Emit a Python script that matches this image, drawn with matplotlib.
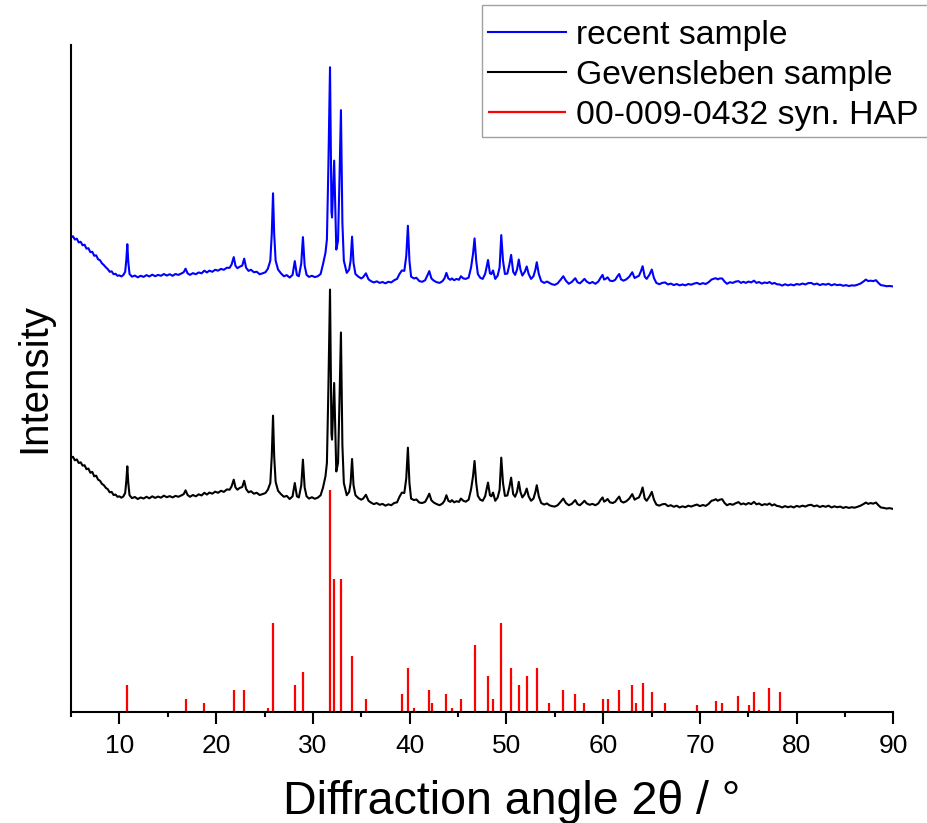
import matplotlib
matplotlib.use("Agg")
import matplotlib.pyplot as plt
from matplotlib.patches import Rectangle
import numpy as np

plt.rcParams["font.family"] = ["Liberation Sans", "DejaVu Sans"]

# recent sample: (2theta, intensity) in plot units, stacked above the old sample
recent_pattern = [
    (5.0, 213.4), (5.2, 214.0), (5.4, 212.5), (5.6, 212.9), (5.8, 211.2), (6.0, 211.5),
    (6.2, 209.9), (6.4, 210.2), (6.6, 208.4), (6.8, 208.6), (7.0, 206.8), (7.2, 207.0),
    (7.4, 205.2), (7.6, 205.4), (7.8, 203.6), (8.0, 203.2), (8.2, 201.8), (8.4, 201.0),
    (8.6, 200.0), (8.8, 199.2), (9.0, 198.0), (9.2, 198.2), (9.4, 196.9), (9.6, 197.1),
    (9.8, 196.2), (10.0, 196.4), (10.2, 195.9), (10.4, 196.5), (10.6, 198.0), (10.72, 203.5),
    (10.82, 210.4), (10.92, 202.5), (11.05, 197.0), (11.3, 195.8), (11.6, 196.3), (11.9, 195.5),
    (12.2, 196.2), (12.5, 195.7), (12.8, 196.5), (13.1, 195.9), (13.4, 196.7), (13.7, 196.0),
    (14.0, 196.6), (14.3, 196.2), (14.6, 197.0), (14.9, 196.3), (15.2, 196.9), (15.5, 196.2),
    (15.8, 197.0), (16.1, 196.6), (16.4, 197.2), (16.65, 197.8), (16.84, 199.4), (17.05, 197.3),
    (17.3, 196.6), (17.6, 197.4), (17.9, 196.9), (18.2, 197.7), (18.5, 197.3), (18.78, 198.5),
    (19.05, 197.7), (19.3, 198.5), (19.6, 198.0), (19.9, 198.9), (20.2, 198.5), (20.5, 199.3),
    (20.8, 198.9), (21.1, 199.8), (21.4, 199.8), (21.6, 201.3), (21.82, 204.6), (22.0, 200.7),
    (22.2, 199.6), (22.45, 200.3), (22.7, 200.8), (22.9, 203.9), (23.1, 199.8), (23.35, 198.4),
    (23.6, 198.9), (23.9, 197.8), (24.2, 198.0), (24.5, 196.9), (24.8, 197.3), (25.1, 197.8),
    (25.35, 199.4), (25.6, 203.0), (25.75, 215.0), (25.88, 233.3), (26.0, 215.0), (26.15, 203.0),
    (26.4, 199.0), (26.7, 197.3), (27.0, 196.0), (27.3, 196.5), (27.6, 195.4), (27.9, 196.6),
    (28.13, 202.8), (28.35, 196.5), (28.55, 196.0), (28.8, 201.8), (28.97, 213.6), (29.15, 200.8),
    (29.35, 196.6), (29.6, 195.7), (29.9, 196.2), (30.2, 195.6), (30.5, 196.0), (30.8, 197.0),
    (31.05, 201.5), (31.3, 206.5), (31.45, 212.5), (31.6, 245.0), (31.77, 290.0), (31.92, 225.0),
    (31.98, 222.4), (32.2, 248.0), (32.42, 208.0), (32.6, 212.0), (32.75, 240.0), (32.9, 270.7),
    (33.05, 220.0), (33.2, 203.0), (33.5, 197.5), (33.75, 199.0), (33.9, 203.0), (34.05, 213.8),
    (34.2, 202.0), (34.4, 197.0), (34.7, 195.8), (35.0, 195.0), (35.2, 195.6), (35.48, 197.3),
    (35.75, 194.6), (36.0, 193.8), (36.3, 193.2), (36.6, 193.7), (36.9, 193.0), (37.2, 193.4),
    (37.5, 192.8), (37.8, 193.5), (38.1, 193.2), (38.4, 194.2), (38.7, 194.8), (38.95, 197.0),
    (39.2, 198.6), (39.45, 198.4), (39.65, 205.0), (39.82, 218.7), (39.98, 203.0), (40.15, 195.8),
    (40.45, 195.0), (40.7, 195.3), (41.0, 193.8), (41.3, 193.5), (41.6, 194.2), (41.85, 196.5),
    (42.03, 198.3), (42.25, 195.0), (42.5, 194.0), (42.8, 193.3), (43.1, 193.0), (43.4, 193.8),
    (43.6, 195.0), (43.8, 197.5), (44.0, 195.0), (44.2, 194.4), (44.37, 195.0), (44.6, 194.2),
    (44.85, 194.8), (45.1, 194.4), (45.3, 196.0), (45.55, 195.0), (45.8, 194.8), (46.1, 195.4),
    (46.35, 200.0), (46.55, 206.0), (46.71, 213.0), (46.88, 203.0), (47.05, 197.0), (47.3, 195.3),
    (47.55, 194.8), (47.8, 197.0), (47.95, 200.0), (48.1, 203.3), (48.3, 197.3), (48.45, 197.0),
    (48.62, 198.6), (48.85, 194.8), (49.1, 196.3), (49.3, 200.0), (49.47, 214.5), (49.65, 203.0),
    (49.85, 197.0), (50.1, 197.2), (50.3, 201.0), (50.49, 205.6), (50.7, 198.0), (50.9, 196.6),
    (51.1, 199.0), (51.28, 203.5), (51.45, 199.0), (51.65, 196.3), (51.9, 198.0), (52.1, 200.4),
    (52.3, 197.0), (52.55, 194.8), (52.8, 196.0), (53.0, 199.0), (53.14, 202.3), (53.35, 197.0),
    (53.6, 193.8), (53.9, 193.0), (54.2, 193.6), (54.44, 193.0), (54.7, 192.4), (55.0, 192.1),
    (55.3, 192.8), (55.6, 194.4), (55.88, 196.0), (56.15, 194.0), (56.45, 192.6), (56.75, 193.4),
    (56.95, 194.3), (57.12, 195.1), (57.35, 193.3), (57.6, 192.8), (57.85, 193.8), (58.07, 194.8),
    (58.3, 193.6), (58.6, 192.8), (58.9, 193.4), (59.2, 192.6), (59.5, 193.6), (59.75, 195.4),
    (59.94, 196.6), (60.1, 194.5), (60.25, 194.8), (60.46, 195.5), (60.7, 194.0), (61.0, 193.8),
    (61.25, 194.4), (61.45, 195.8), (61.66, 197.0), (61.85, 194.6), (62.1, 194.0), (62.4, 194.6),
    (62.7, 195.8), (63.01, 197.8), (63.25, 195.2), (63.44, 195.6), (63.7, 196.2), (63.9, 198.2),
    (64.08, 200.5), (64.3, 195.8), (64.5, 194.8), (64.8, 196.8), (65.03, 199.0), (65.25, 195.2),
    (65.5, 193.0), (65.8, 192.4), (66.1, 193.0), (66.4, 193.2), (66.7, 192.3), (67.0, 192.7),
    (67.3, 192.0), (67.6, 192.5), (67.9, 191.9), (68.2, 192.3), (68.5, 191.9), (68.8, 192.5),
    (69.1, 192.2), (69.4, 192.7), (69.7, 193.0), (70.0, 192.4), (70.3, 192.9), (70.6, 192.5),
    (70.9, 193.3), (71.2, 194.5), (71.45, 194.9), (71.65, 195.1), (71.85, 194.6), (72.05, 195.0),
    (72.3, 195.0), (72.55, 193.6), (72.8, 192.6), (73.1, 193.3), (73.4, 193.0), (73.7, 193.6),
    (73.99, 193.8), (74.25, 193.0), (74.5, 193.5), (74.75, 193.0), (75.03, 193.6), (75.3, 193.2),
    (75.59, 194.0), (75.85, 193.0), (76.11, 193.4), (76.4, 192.7), (76.7, 193.2), (76.95, 192.9),
    (77.19, 193.4), (77.45, 192.6), (77.7, 193.0), (77.95, 192.4), (78.23, 192.3), (78.5, 191.8),
    (78.8, 192.4), (79.1, 191.9), (79.4, 192.3), (79.7, 191.9), (80.0, 192.5), (80.3, 192.2),
    (80.6, 192.7), (80.9, 192.3), (81.2, 192.9), (81.5, 193.0), (81.8, 192.3), (82.1, 192.7),
    (82.4, 192.0), (82.7, 192.5), (83.0, 192.2), (83.3, 192.6), (83.6, 191.9), (83.9, 192.4),
    (84.2, 192.0), (84.5, 192.2), (84.8, 191.7), (85.1, 192.0), (85.4, 191.6), (85.7, 191.9),
    (86.0, 191.8), (86.3, 192.2), (86.6, 192.7), (86.9, 193.6), (87.15, 194.5), (87.4, 193.8),
    (87.65, 194.0), (87.9, 193.8), (88.2, 194.2), (88.45, 193.0), (88.7, 192.0), (89.0, 191.8),
    (89.3, 191.5), (89.6, 191.6), (90.0, 191.4),
]

# Gevensleben sample: (2theta, intensity)
gevensleben_pattern = [
    (5.0, 114.3), (5.2, 114.8), (5.4, 113.2), (5.6, 113.6), (5.8, 112.0), (6.0, 112.3),
    (6.2, 110.8), (6.4, 111.0), (6.6, 109.2), (6.8, 109.5), (7.0, 107.6), (7.2, 108.0),
    (7.4, 106.0), (7.6, 106.3), (7.8, 104.5), (8.0, 104.0), (8.2, 102.6), (8.4, 102.0),
    (8.6, 100.8), (8.8, 100.2), (9.0, 98.8), (9.2, 99.0), (9.4, 97.6), (9.6, 97.8),
    (9.8, 96.8), (10.0, 97.0), (10.2, 96.4), (10.4, 96.9), (10.6, 98.5), (10.72, 104.0),
    (10.82, 110.5), (10.92, 103.0), (11.05, 97.5), (11.3, 96.2), (11.6, 96.7), (11.9, 95.8),
    (12.2, 96.5), (12.5, 96.0), (12.8, 96.8), (13.1, 96.1), (13.4, 97.0), (13.7, 96.3),
    (14.0, 96.9), (14.3, 96.4), (14.6, 97.3), (14.9, 96.6), (15.2, 97.1), (15.5, 96.5),
    (15.8, 97.2), (16.1, 96.8), (16.4, 97.4), (16.65, 98.0), (16.84, 99.7), (17.05, 97.6),
    (17.3, 96.8), (17.6, 97.6), (17.9, 97.0), (18.2, 97.9), (18.5, 97.4), (18.78, 98.6),
    (19.05, 97.8), (19.3, 98.7), (19.6, 98.2), (19.9, 99.1), (20.2, 98.6), (20.5, 99.5),
    (20.8, 99.0), (21.1, 100.1), (21.4, 100.0), (21.6, 101.5), (21.82, 104.5), (22.0, 101.0),
    (22.2, 100.0), (22.45, 100.8), (22.7, 101.2), (22.9, 104.0), (23.1, 100.3), (23.35, 98.8),
    (23.6, 99.3), (23.9, 98.2), (24.2, 98.6), (24.5, 97.6), (24.8, 98.0), (25.1, 98.5),
    (25.35, 100.0), (25.6, 103.0), (25.75, 115.0), (25.88, 133.3), (26.0, 115.0), (26.15, 103.5),
    (26.4, 99.5), (26.7, 98.0), (27.0, 96.8), (27.3, 97.2), (27.6, 95.8), (27.9, 97.0),
    (28.13, 103.0), (28.35, 97.0), (28.55, 96.5), (28.8, 102.0), (28.97, 113.5), (29.15, 101.0),
    (29.35, 97.0), (29.6, 96.0), (29.9, 96.6), (30.2, 95.9), (30.5, 96.4), (30.8, 97.5),
    (31.05, 101.0), (31.3, 106.0), (31.45, 112.0), (31.6, 145.0), (31.77, 190.0), (31.92, 125.0),
    (31.98, 122.5), (32.2, 148.0), (32.42, 108.2), (32.6, 112.0), (32.75, 140.0), (32.9, 170.7),
    (33.05, 120.0), (33.2, 103.0), (33.5, 97.5), (33.75, 99.0), (33.9, 103.0), (34.05, 113.8),
    (34.2, 102.0), (34.4, 97.5), (34.7, 96.2), (35.0, 95.5), (35.2, 96.0), (35.48, 97.7),
    (35.75, 95.0), (36.0, 94.2), (36.3, 93.5), (36.6, 94.0), (36.9, 93.2), (37.2, 93.6),
    (37.5, 92.8), (37.8, 93.4), (38.1, 93.0), (38.4, 94.0), (38.7, 94.3), (38.95, 96.8),
    (39.2, 98.7), (39.45, 98.5), (39.65, 105.0), (39.82, 118.9), (39.98, 103.0), (40.15, 96.0),
    (40.45, 95.3), (40.7, 95.6), (41.0, 94.2), (41.3, 94.0), (41.6, 94.5), (41.85, 96.5),
    (42.03, 98.2), (42.25, 95.2), (42.5, 94.2), (42.8, 93.5), (43.1, 93.0), (43.4, 93.8),
    (43.6, 95.0), (43.8, 97.5), (44.0, 95.0), (44.2, 94.5), (44.37, 95.3), (44.6, 94.3),
    (44.85, 94.8), (45.1, 94.5), (45.3, 96.0), (45.55, 95.0), (45.8, 94.6), (46.1, 95.5),
    (46.35, 100.2), (46.55, 106.0), (46.71, 112.9), (46.88, 103.0), (47.05, 97.2), (47.3, 95.5),
    (47.55, 95.0), (47.8, 97.0), (47.95, 100.0), (48.1, 103.2), (48.3, 97.5), (48.45, 97.0),
    (48.62, 98.7), (48.85, 95.0), (49.1, 96.5), (49.3, 100.0), (49.47, 114.4), (49.65, 103.0),
    (49.85, 97.2), (50.1, 97.4), (50.3, 101.0), (50.49, 105.4), (50.7, 98.0), (50.9, 96.8),
    (51.1, 99.0), (51.28, 103.5), (51.45, 99.0), (51.65, 96.5), (51.9, 98.0), (52.1, 100.5),
    (52.3, 97.0), (52.55, 95.0), (52.8, 96.0), (53.0, 99.0), (53.14, 102.0), (53.35, 97.0),
    (53.6, 94.0), (53.9, 93.3), (54.2, 93.8), (54.44, 93.0), (54.7, 92.6), (55.0, 92.4),
    (55.3, 93.0), (55.6, 94.5), (55.88, 96.0), (56.15, 94.0), (56.45, 93.0), (56.75, 93.6),
    (56.95, 94.5), (57.12, 95.3), (57.35, 93.5), (57.6, 93.0), (57.85, 94.0), (58.07, 95.0),
    (58.3, 93.8), (58.6, 93.2), (58.9, 93.6), (59.2, 93.0), (59.5, 93.8), (59.75, 95.5),
    (59.94, 96.5), (60.1, 94.6), (60.25, 95.0), (60.46, 95.8), (60.7, 94.3), (61.0, 94.0),
    (61.25, 94.6), (61.45, 95.8), (61.66, 96.9), (61.85, 94.8), (62.1, 94.2), (62.4, 94.8),
    (62.7, 96.0), (63.01, 98.0), (63.25, 95.5), (63.44, 96.0), (63.7, 96.5), (63.9, 98.5),
    (64.08, 101.0), (64.3, 96.0), (64.5, 95.0), (64.8, 97.0), (65.03, 99.0), (65.25, 95.5),
    (65.5, 93.3), (65.8, 92.8), (66.1, 93.4), (66.4, 93.6), (66.7, 92.6), (67.0, 93.0),
    (67.3, 92.3), (67.6, 92.8), (67.9, 92.0), (68.2, 92.5), (68.5, 92.1), (68.8, 92.8),
    (69.1, 92.4), (69.4, 92.9), (69.7, 93.3), (70.0, 92.6), (70.3, 93.1), (70.6, 92.7),
    (70.9, 93.6), (71.2, 95.0), (71.45, 95.3), (71.65, 95.7), (71.85, 95.0), (72.05, 95.5),
    (72.3, 95.7), (72.55, 94.0), (72.8, 93.0), (73.1, 93.6), (73.4, 93.2), (73.7, 93.9),
    (73.99, 94.4), (74.25, 93.4), (74.5, 93.8), (74.75, 93.3), (75.03, 94.0), (75.3, 93.5),
    (75.59, 94.5), (75.85, 93.4), (76.11, 93.8), (76.4, 93.0), (76.7, 93.5), (76.95, 93.2),
    (77.19, 93.8), (77.45, 92.9), (77.7, 93.4), (77.95, 92.7), (78.23, 92.5), (78.5, 92.0),
    (78.8, 92.6), (79.1, 92.1), (79.4, 92.5), (79.7, 92.0), (80.0, 92.7), (80.3, 92.3),
    (80.6, 92.8), (80.9, 92.4), (81.2, 93.0), (81.5, 93.2), (81.8, 92.5), (82.1, 92.9),
    (82.4, 92.2), (82.7, 92.7), (83.0, 92.3), (83.3, 92.8), (83.6, 92.0), (83.9, 92.5),
    (84.2, 92.1), (84.5, 92.4), (84.8, 91.8), (85.1, 92.2), (85.4, 91.8), (85.7, 92.1),
    (86.0, 91.9), (86.3, 92.3), (86.6, 92.8), (86.9, 93.5), (87.15, 94.2), (87.4, 93.6),
    (87.65, 94.0), (87.9, 93.7), (88.2, 94.2), (88.45, 93.0), (88.7, 92.0), (89.0, 91.8),
    (89.3, 91.5), (89.6, 91.7), (90.0, 91.3),
]

# PDF 00-009-0432 hydroxyapatite reference lines (relative intensity, %)
hap_2theta = [
    10.82, 16.84, 18.78, 21.82, 22.90, 25.35, 25.88, 28.13, 28.97, 31.77, 32.20, 32.90,
    34.05, 35.48, 39.20, 39.82, 40.45, 42.03, 42.32, 43.80, 44.37, 45.30, 46.71, 48.10,
    48.62, 49.47, 50.49, 51.28, 52.10, 53.14, 54.44, 55.88, 57.12, 58.07, 59.94, 60.46,
    61.66, 63.01, 63.44, 64.08, 65.03, 66.40, 69.70, 71.65, 72.30, 73.99, 75.03, 75.59,
    76.11, 77.19, 78.23,
]
hap_intensity = [
    12, 6, 4, 10, 10, 2, 40, 12, 18, 100, 60, 60,
    25, 6, 8, 20, 2, 10, 4, 8, 2, 6, 30, 16,
    6, 40, 20, 12, 16, 20, 4, 10, 8, 4, 6, 6,
    10, 12, 4, 13, 9, 4, 3, 5, 4, 7, 3, 9,
    1, 11, 9,
]

recent_x, recent_y = zip(*recent_pattern)
gev_x, gev_y = zip(*gevensleben_pattern)

W, H = 928, 823
fig = plt.figure(figsize=(W / 100, H / 100), dpi=100)
ax = fig.add_axes([71 / W, 111 / H, 822.4 / W, 667 / H])

ax.plot(recent_x, recent_y, color="#0000ff", lw=1.5, label="recent sample")
ax.plot(gev_x, gev_y, color="black", lw=1.5, label="Gevensleben sample")
ax.vlines(hap_2theta, 0, hap_intensity, color="#ff0000", lw=1.6,
          label="00-009-0432 syn. HAP")

ax.set_xlim(5, 90)
ax.set_ylim(0, 300)
ax.set_xticks(np.arange(10, 91, 10))
ax.set_xticks(np.arange(5, 91, 10), minor=True)
ax.set_yticks([])
ax.tick_params(axis="x", which="major", length=8.5, width=1.5, pad=7, labelsize=19)
ax.tick_params(axis="x", which="minor", length=3.6, width=1.5)

ax.spines["top"].set_visible(False)
ax.spines["right"].set_visible(False)
ax.spines["left"].set_linewidth(1.5)
ax.spines["bottom"].set_linewidth(1.5)

ax.set_xlabel("Diffraction angle 2θ / °", fontsize=33.5)
ax.xaxis.set_label_coords((512 - 71) / 822.4, -0.102)
ax.set_ylabel("Intensity", fontsize=29, labelpad=13)

# legend entries without frame; the box is drawn separately and runs off the right edge
leg = ax.legend(loc="upper left", bbox_to_anchor=(488 / W, 1 - 20 / H),
                bbox_transform=fig.transFigure, fontsize=24.3, frameon=False,
                handlelength=2.3, handletextpad=0.32, borderpad=0,
                labelspacing=0.26, borderaxespad=0)
fig.add_artist(Rectangle((482 / W, 1 - 137 / H), 0.5, 132 / H,
                         transform=fig.transFigure, fill=False,
                         edgecolor="#a0a0a0", lw=1.0, zorder=5))

plt.savefig("out.png", dpi=100)
